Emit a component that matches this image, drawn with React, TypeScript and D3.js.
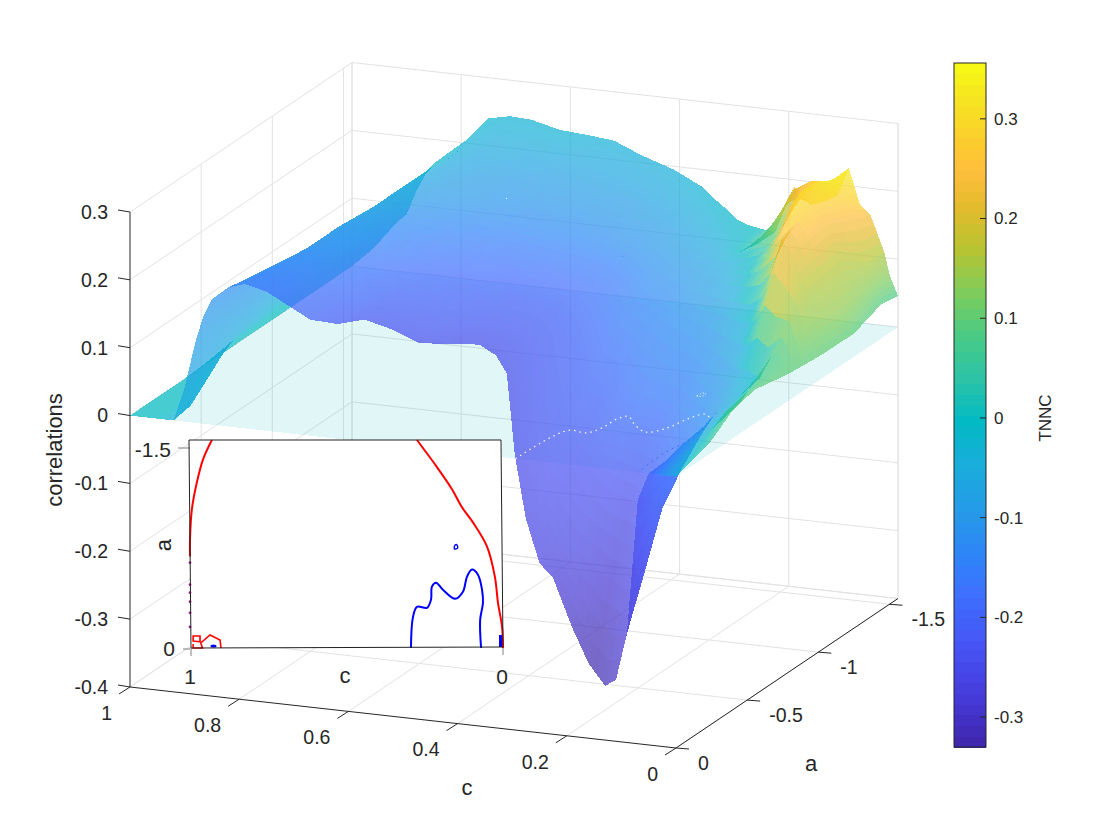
import * as React from 'react';
import * as d3 from 'd3';

// surface grid: height (correlations) at every c / a node
const cVals = [1, .96, .92, .9, .88, .865, .85, .82, .79, .75, .71, .67, .62, .57, .52, .47, .41, .36, .33, .31, .295, .275, .25, .225, .19, .16, .13, .11, .09, .07, .05, .025, .015, 0];
const aVals = [0, -.12, -.25, -.39, -.55, -.78, -1.01, -1.25, -1.44, -1.56];
const corr = [
  [0, 0, 0, 0, 0, 0, 0, 0, 0, 0],
  [0, 0, .01, .028, .03, .03, .03, .03, .03, .03],
  [0, .005, .03, .058, .062, .065, .065, .065, .065, .07],
  [.05, .06, .065, .075, .08, .085, .085, .085, .085, .085],
  [.12, .12, .115, .11, .11, .11, .11, .11, .115, .125],
  [.16, .15, .14, .135, .132, .13, .128, .13, .138, .148],
  [.185, .175, .165, .16, .155, .15, .145, .15, .155, .165],
  [.205, .2, .195, .19, .185, .185, .18, .18, .18, .185],
  [.213, .21, .205, .2, .195, .195, .195, .195, .195, .205],
  [.205, .205, .2, .195, .195, .2, .205, .215, .225, .24],
  [.188, .19, .19, .19, .195, .2, .21, .22, .24, .247],
  [.171, .178, .18, .185, .19, .2, .21, .222, .238, .245],
  [.169, .172, .177, .183, .19, .2, .21, .222, .232, .235],
  [.18, .178, .18, .183, .188, .197, .208, .218, .228, .232],
  [.17, .172, .175, .18, .185, .193, .204, .215, .224, .228],
  [.154, .16, .167, .175, .182, .19, .2, .208, .215, .211],
  [.159, .16, .165, .172, .178, .185, .193, .198, .198, .195],
  [.162, .16, .162, .168, .172, .178, .185, .188, .182, .175],
  [.149, .15, .155, .16, .165, .172, .178, .178, .165, .155],
  [.124, .125, .13, .14, .15, .162, .17, .168, .152, .143],
  [.004, .01, .03, .105, .13, .15, .16, .155, .142, .132],
  [-.087, -.07, -.015, .03, .08, .125, .145, .145, .132, .126],
  [-.15, -.1, -.02, .02, .07, .115, .135, .135, .125, .122],
  [-.17, -.14, -.05, -.01, .03, .1, .125, .128, .12, .12],
  [-.24, -.16, -.07, -.006, .02, .085, .125, .14, .16, .19],
  [-.29, -.18, -.08, -.01, .02, .075, .125, .15, .205, .165],
  [-.32, -.19, -.09, -.02, .005, .06, .125, .18, .22, .175],
  [-.31, -.2, -.1, -.05, -.008, .05, .13, .22, .222, .185],
  [-.24, -.17, -.09, -.05, -.015, .04, .15, .24, .225, .226],
  [-.04, -.04, -.02, -.005, .01, .04, .2, .22, .2, .175],
  [0, .002, .01, .015, .02, .03, .18, .19, .17, .16],
  [0, .005, .012, .02, .03, .07, .13, .14, .11, .108],
  [0, .007, .015, .035, .045, .07, .08, .075, .08, .075],
  [0, .008, .018, .04, .05, .04, .035, .034, .05, .046],
];

// colour values (TNNC), coarser grid
const tnncC = [1, .95, .9, .85, .8, .7, .6, .5, .4, .3, .25, .2, .15, .1, .07, .05, .025, 0];
const tnncA = [0, -.39, -.78, -.95, -1.17, -1.56];
const tnnc = [
  [0, 0, 0, 0, 0, 0],
  [0, 0, 0, 0, 0, 0],
  [-.07, -.05, -.03, -.02, -.01, -.01],
  [-.11, -.1, -.07, -.05, -.04, -.015],
  [-.15, -.13, -.1, -.08, -.06, -.02],
  [-.2, -.17, -.13, -.1, -.08, -.03],
  [-.23, -.19, -.14, -.11, -.09, -.03],
  [-.24, -.2, -.15, -.12, -.09, -.04],
  [-.25, -.21, -.15, -.12, -.09, -.04],
  [-.25, -.21, -.15, -.11, -.08, -.015],
  [-.27, -.21, -.14, -.11, -.07, .01],
  [-.3, -.2, -.13, -.09, -.05, .2],
  [-.33, -.2, -.12, -.06, .02, .34],
  [-.3, -.18, -.08, 0, .3, .35],
  [-.22, -.13, -.03, .2, .28, .28],
  [-.2, -.1, 0, .2, .24, .24],
  [-.1, 0, .08, .16, .17, .16],
  [-.02, .1, .1, .1, .1, .08],
];

// inset contours, [c, a]
const redRight = [[.275, -1.56], [.211, -1.357], [.163, -1.191], [.131, -1.055], [.096, -.942], [.051, -.761], [.026, -.535], [.016, -.339], [.003, -.158], [0, 0]];
const redLeft = [[.93, -1.56], [.958, -1.417], [.978, -1.243], [.994, -1.04], [1, -.814], [1, -.686]];
const redLoop = [[.901, 0], [.904, -.06], [.936, -.098], [.962, -.045], [.99, -.053], [.99, -.09], [.968, -.09], [.968, -.053], [.96, 0], [.99, 0], [.99, -.03]];
const redDots = [-.64, -.475, -.415, -.347, -.264, -.158];
const blueMain = [[.294, 0], [.288, -.226], [.275, -.309], [.243, -.301], [.23, -.362], [.227, -.46], [.214, -.49], [.192, -.437], [.153, -.369], [.128, -.422], [.115, -.535], [.099, -.588], [.08, -.55], [.067, -.437], [.064, -.339], [.073, -.211], [.07, 0]];
const blueRing = [[.155, -.74], [.145, -.75], [.148, -.775], [.155, -.765], [.155, -.74]];

const parulaStops = ['#3e26a8', '#4537d5', '#4752f4', '#3e6fff', '#2d87f7', '#259be7', '#18addb', '#02bac3', '#2cc3a7', '#4acb84', '#80cc59', '#b9c431', '#e6bb2d', '#febe3c', '#fcce2d', '#f5e621', '#f9fb14'];
const parulaIdx = [0, 4, 9, 14, 18, 22, 26, 30, 34, 38, 42, 46, 50, 53, 56, 60, 63];

const zTicks = [.3, .2, .1, 0, -.1, -.2, -.3, -.4];
const cTicks = [1, .8, .6, .4, .2, 0];
const aTicks = [0, -.5, -1, -1.5];
const barTicks = [.3, .2, .1, 0, -.1, -.2, -.3];
const barMin = -.33, barMax = .356, aLim = -1.56;

const ink = '#262626';
const grid = '#e2e2e2';
const font = '"Liberation Sans", Arial, sans-serif';

const cx = d3.scaleLinear([1, 0], [130, 676]);
const cy = d3.scaleLinear([1, 0], [0, 61]);
const ax = d3.scaleLinear([0, aLim], [0, 222]);
const ay = d3.scaleLinear([0, aLim], [0, -149.5]);
const zy = d3.scaleLinear([-.4, .3], [687, 212]);
const project = (c: number, a: number, z: number): [number, number] => [cx(c) + ax(a), zy(z) + cy(c) + ay(a)];

const color = d3.scaleLinear<string>()
  .domain(parulaIdx.map(i => barMin + (barMax - barMin) * i / 63))
  .range(parulaStops)
  .clamp(true);

const tnncRow = d3.scaleLinear(tnncC, d3.range(tnncC.length));
const tnncCol = d3.scaleLinear(tnncA, d3.range(tnncA.length));
function tnncAt(c: number, a: number) {
  const r = tnncRow(c), k = tnncCol(a);
  const r0 = Math.min(Math.floor(r), tnncC.length - 2), k0 = Math.min(Math.floor(k), tnncA.length - 2);
  const fr = r - r0, fk = k - k0;
  return (tnnc[r0][k0] * (1 - fk) + tnnc[r0][k0 + 1] * fk) * (1 - fr) + (tnnc[r0 + 1][k0] * (1 - fk) + tnnc[r0 + 1][k0 + 1] * fk) * fr;
}

// split each grid cell so the colour runs smoothly across it
function buildPatches() {
  const parts = 4;
  const out: { d: string; fill: string; depth: number }[] = [];
  for (let i = 0; i < cVals.length - 1; i++) {
    for (let j = 0; j < aVals.length - 1; j++) {
      const at = (p: number, q: number) => {
        const c = cVals[i] + (cVals[i + 1] - cVals[i]) * p;
        const a = aVals[j] + (aVals[j + 1] - aVals[j]) * q;
        const z = (corr[i][j] * (1 - q) + corr[i][j + 1] * q) * (1 - p) + (corr[i + 1][j] * (1 - q) + corr[i + 1][j + 1] * q) * p;
        return { c, a, z };
      };
      for (let p = 0; p < parts; p++) {
        for (let q = 0; q < parts; q++) {
          const pts = [at(p / parts, q / parts), at((p + 1) / parts, q / parts), at((p + 1) / parts, (q + 1) / parts), at(p / parts, (q + 1) / parts)];
          const mid = at((p + .5) / parts, (q + .5) / parts);
          out.push({
            d: 'M' + pts.map(v => project(v.c, v.a, v.z).map(n => n.toFixed(2)).join(',')).join('L') + 'Z',
            fill: color(tnncAt(mid.c, mid.a)),
            depth: (1 - mid.c) * .55 + (mid.a / -aLim) * .8 + (mid.z + .4) / .7 * .3,
          });
        }
      }
    }
  }
  return out.sort((m, n) => m.depth - n.depth);
}

const insetX = d3.scaleLinear([1, 0], [190, 503]);
const insetY = d3.scaleLinear([0, aLim], [648, 440]);
const insetLine = d3.line<number[]>().x(d => insetX(d[0])).y(d => insetY(d[1])).curve(d3.curveCatmullRom);
const surfaceLine = d3.line<number[]>().x(d => project(d[0], d[1], 0)[0]).y(d => project(d[0], d[1], 0)[1]).curve(d3.curveCatmullRom);

export default function App() {
  const patches = React.useMemo(buildPatches, []);
  const barY = d3.scaleLinear([barMin, barMax], [747, 63]);
  const barSteps = d3.range(64);
  const seg = (p: [number, number], q: [number, number], stroke: string, key: string, w = 1) =>
    <line key={key} x1={p[0]} y1={p[1]} x2={q[0]} y2={q[1]} stroke={stroke} strokeWidth={w} />;

  return (
    <svg width={1120} height={840} style={{ position: 'absolute', left: 0, top: 0, fontFamily: font }}>
      <rect width={1120} height={840} fill="#fff" />

      {/* walls and floor */}
      <g>
        {zTicks.map(z => <g key={'gz' + z}>
          {seg(project(1, 0, z), project(1, aLim, z), grid, 'l')}
          {seg(project(1, aLim, z), project(0, aLim, z), grid, 'b')}
        </g>)}
        {cTicks.map(c => <g key={'gc' + c}>
          {seg(project(c, 0, -.4), project(c, aLim, -.4), grid, 'f')}
          {seg(project(c, aLim, -.4), project(c, aLim, .3), grid, 'v')}
        </g>)}
        {aTicks.filter(a => a !== 0).map(a => <g key={'ga' + a}>
          {seg(project(0, a, -.4), project(1, a, -.4), grid, 'f')}
          {seg(project(1, a, -.4), project(1, a, .3), grid, 'v')}
        </g>)}
        {seg(project(1, aLim, -.4), project(1, aLim, .3), grid, 'corner')}
        {seg(project(0, aLim, -.4), project(0, aLim, .3), grid, 'right')}
        {seg(project(0, aLim, -.4), project(1, aLim, -.4), grid, 'back')}
      </g>

      {/* zero plane */}
      <path
        d={'M' + [project(1, 0, 0), project(1, aLim, 0), project(0, aLim, 0), project(0, 0, 0)].map(p => p.join(',')).join('L') + 'Z'}
        fill={color(0)} fillOpacity={.12} shapeRendering="crispEdges" />

      {/* surface */}
      <g shapeRendering="crispEdges" fillOpacity={.7}>
        {patches.map((p, i) => <path key={i} d={p.d} fill={p.fill} />)}
      </g>

      {/* where the surface cuts the plane */}
      <path d={surfaceLine(blueMain.slice(0, 13)) || ''} fill="none" stroke="#fff" strokeWidth={1.2} strokeDasharray="1.5 4" />
      <path d={surfaceLine(blueMain.slice(12)) || ''} fill="none" stroke="#3d6cf5" strokeWidth={1} strokeDasharray="2 4" />
      <path d={surfaceLine(blueRing) || ''} fill="none" stroke="#fff" strokeWidth={1} strokeDasharray="1 2" />

      {/* axes */}
      <g>
        {seg(project(1, 0, -.4), project(1, 0, .3), ink, 'zaxis')}
        {seg(project(1, 0, -.4), project(0, 0, -.4), ink, 'caxis')}
        {seg(project(0, 0, -.4), project(0, aLim, -.4), ink, 'aaxis')}
        {zTicks.map(z => {
          const p = project(1, 0, z);
          return <g key={'tz' + z}>
            {seg(p, [p[0] - 12, p[1] - 2], ink, 't')}
            <text x={108} y={p[1]} dy=".35em" textAnchor="end" fontSize={19.5} fill={ink}>{z}</text>
          </g>;
        })}
        {cTicks.map(c => {
          const p = project(c, 0, -.4);
          return <g key={'tc' + c}>
            {seg(p, [p[0] - 11, p[1] + 7], ink, 't')}
            <text x={p[0] - 18} y={p[1] + 26} dy=".35em" textAnchor="end" fontSize={19.5} fill={ink}>{c}</text>
          </g>;
        })}
        {aTicks.map(a => {
          const p = project(0, a, -.4);
          return <g key={'ta' + a}>
            {seg(p, [p[0] + 13, p[1] + 1], ink, 't')}
            <text x={p[0] + 22} y={p[1] + 15} dy=".35em" fontSize={19.5} fill={ink}>{a}</text>
          </g>;
        })}
        <text transform="translate(62,450) rotate(-90)" textAnchor="middle" fontSize={22} fill={ink}>correlations</text>
        <text x={467} y={787} dy=".35em" textAnchor="middle" fontSize={22} fill={ink}>c</text>
        <text x={811} y={763} dy=".35em" textAnchor="middle" fontSize={22} fill={ink}>a</text>
      </g>

      {/* colour bar */}
      <g>
        <g shapeRendering="crispEdges">
          {barSteps.map(i => {
            const v0 = barMin + (barMax - barMin) * i / 64, v1 = barMin + (barMax - barMin) * (i + 1) / 64;
            return <rect key={i} x={954} width={32} y={barY(v1)} height={barY(v0) - barY(v1) + .5} fill={color((v0 + v1) / 2)} />;
          })}
        </g>
        <rect x={954} y={63} width={32} height={684} fill="none" stroke={ink} />
        {barTicks.map(v => <g key={'bt' + v}>
          {seg([980, barY(v)], [986, barY(v)], ink, 't')}
          <text x={994} y={barY(v)} dy=".35em" fontSize={17} fill={ink}>{v}</text>
        </g>)}
        <text transform="translate(1051,418) rotate(-90)" textAnchor="middle" fontSize={17} fill={ink}>TNNC</text>
      </g>

      {/* inset */}
      <g>
        <rect x={190} y={440} width={312} height={208} fill="#fff" />
        {seg([178, insetY(-1.5)], [190, insetY(-1.5)], '#808080', 'i1')}
        {seg([183, 649], [190, 649], '#808080', 'i2')}
        {seg([191, 648], [191, 656], '#808080', 'i3')}
        {seg([503, 647], [503, 655], '#808080', 'i4')}
        <path d={insetLine(redRight) || ''} fill="none" stroke="#f00" strokeWidth={2} />
        <path d={insetLine(redLeft) || ''} fill="none" stroke="#f00" strokeWidth={2} />
        <path d={d3.line()(redLoop.map(d => [insetX(d[0]), insetY(d[1])] as [number, number])) || ''} fill="none" stroke="#f00" strokeWidth={1.6} />
        {redDots.map(a => <circle key={a} cx={insetX(1)} cy={insetY(a)} r={1.4} fill="#a0208a" />)}
        <path d={insetLine(blueMain) || ''} fill="none" stroke="#00f" strokeWidth={2} />
        <path d={insetLine(blueRing) || ''} fill="none" stroke="#00f" strokeWidth={1.5} />
        <ellipse cx={insetX(.925)} cy={646} rx={3} ry={1.5} fill="#00f" />
        <rect x={499} y={635} width={3} height={12} fill="#00f" />
        <path d="M189,440H501L503,647L191,648Z" fill="none" stroke="#222" strokeWidth={1} />
        <text x={171} y={450} dy=".35em" textAnchor="end" fontSize={21} fill={ink}>-1.5</text>
        <text x={175} y={649} dy=".35em" textAnchor="end" fontSize={21} fill={ink}>0</text>
        <text transform="translate(171,545) rotate(-90)" textAnchor="middle" fontSize={22} fill={ink}>a</text>
        <text x={345} y={675} dy=".35em" textAnchor="middle" fontSize={22} fill={ink}>c</text>
        <text x={190} y={677} dy=".35em" textAnchor="middle" fontSize={21} fill={ink}>1</text>
        <text x={502} y={677} dy=".35em" textAnchor="middle" fontSize={21} fill={ink}>0</text>
      </g>
    </svg>
  );
}
